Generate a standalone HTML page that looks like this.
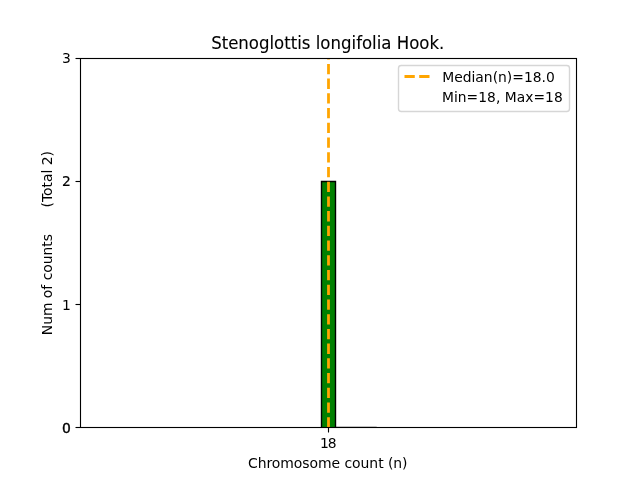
<!DOCTYPE html>
<html lang="en">
<head>
<meta charset="utf-8">
<title>Stenoglottis longifolia Hook.</title>
<style>
html,body{margin:0;padding:0;background:#fff;}
body{width:640px;height:480px;overflow:hidden;}
svg{display:block;}
text{font-family:"DejaVu Sans","Liberation Sans",sans-serif;fill:#000;stroke:#000;stroke-width:0;}
</style>
</head>
<body>
<svg width="640" height="480" viewBox="0 0 640 480">
  <rect x="0" y="0" width="640" height="480" fill="#ffffff"/>
  <!-- bars -->
  <path d="M321.5 427.5V181.5H335.5V427.5" fill="#008000" stroke="#000" stroke-width="1.389" stroke-linejoin="miter"/>
  <rect x="335.5" y="426.806" width="41.2" height="0.694" fill="#000"/>
  <!-- median line -->
  <line x1="328.5" y1="427.5" x2="328.5" y2="58" stroke="#ffa500" stroke-width="2.778" stroke-dasharray="10.278 4.444"/>
  <!-- ticks -->
  <g stroke="#000" stroke-width="1.111">
    <line x1="328.5" y1="427.5" x2="328.5" y2="432.5"/>
    <line x1="80.5" y1="427.5" x2="75.5" y2="427.5"/>
    <line x1="80.5" y1="304.5" x2="75.5" y2="304.5"/>
    <line x1="80.5" y1="181.5" x2="75.5" y2="181.5"/>
    <line x1="80.5" y1="58.5" x2="75.5" y2="58.5"/>
  </g>
  <!-- spines -->
  <rect x="80.5" y="58.5" width="496" height="369" fill="none" stroke="#000" stroke-width="1.111"/>
  <text transform="translate(328.250 447.726) scale(1.0000 1.0200)" text-anchor="middle" style="font-size:13.889px" dx="0 -1.25">18</text>
  <text transform="translate(70.778 432.727) scale(1.0000 1.0200)" text-anchor="end" style="font-size:13.889px;stroke-width:0.40px">0</text>
  <text transform="translate(70.778 309.777)" text-anchor="end" style="font-size:13.889px">1</text>
  <text transform="translate(70.778 186.077) scale(1.0000 1.0400)" text-anchor="end" style="font-size:13.889px;stroke-width:0.20px">2</text>
  <text transform="translate(70.778 62.877)" text-anchor="end" style="font-size:13.889px">3</text>
  <text transform="translate(327.750 467.973) scale(1.0050 1.0000)" text-anchor="middle" style="font-size:13.889px;letter-spacing:-0.050px">Chromosome count (n)</text>
  <text transform="translate(51.747 243.150) rotate(-90)" text-anchor="middle" style="font-size:13.889px;white-space:pre" xml:space="preserve">Num of counts      (Total 2)</text>
  <text transform="translate(327.750 49.267) scale(0.9950 1.0200)" text-anchor="middle" style="font-size:16.667px;stroke-width:0.10px">Stenoglottis longifolia Hook.</text>
  <!-- legend -->
  <rect x="398.5" y="65.5" width="171" height="46" rx="2.78" ry="2.78" fill="#ffffff" fill-opacity="0.8" stroke="#cccccc" stroke-opacity="0.8" stroke-width="1.389"/>
  <line x1="404.5" y1="76.5" x2="432.28" y2="76.5" stroke="#ffa500" stroke-width="2.778" stroke-dasharray="10.278 4.444"/>
  <text transform="translate(442.188 81.653) scale(1.0000 1.0400)" text-anchor="start" style="font-size:13.889px">Median(n)=18.0</text>
  <text transform="translate(441.938 101.540) scale(0.9950 1.0200)" text-anchor="start" style="font-size:13.889px;letter-spacing:0.050px">Min=18, Max=18</text>
</svg>
</body>
</html>
